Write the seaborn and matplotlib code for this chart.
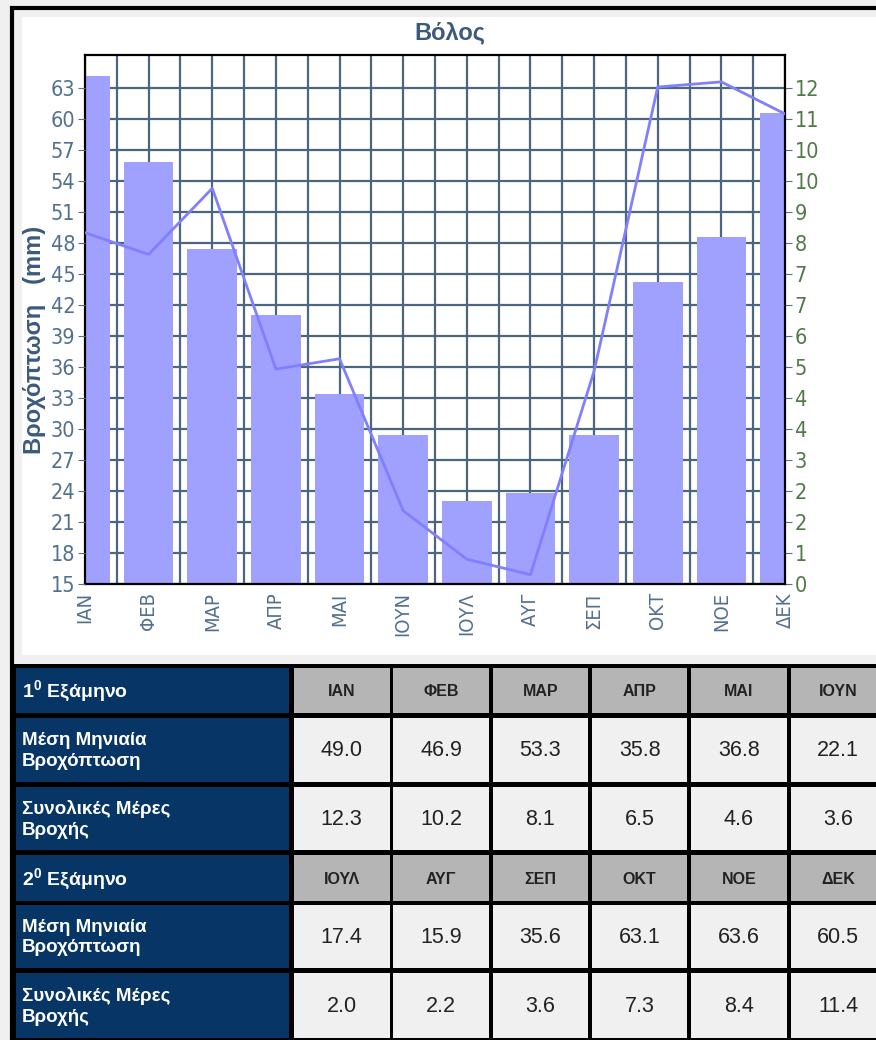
import numpy as np
import matplotlib
matplotlib.use('Agg')
import matplotlib.pyplot as plt
import seaborn as sns
from matplotlib.patches import Rectangle

# Monthly data for Volos
months = ['ΙΑΝ', 'ΦΕΒ', 'ΜΑΡ', 'ΑΠΡ', 'ΜΑΙ', 'ΙΟΥΝ', 'ΙΟΥΛ', 'ΑΥΓ', 'ΣΕΠ', 'ΟΚΤ', 'ΝΟΕ', 'ΔΕΚ']
rain = [49.0, 46.9, 53.3, 35.8, 36.8, 22.1, 17.4, 15.9, 35.6, 63.1, 63.6, 60.5]
days = [12.3, 10.2, 8.1, 6.5, 4.6, 3.6, 2.0, 2.2, 3.6, 7.3, 8.4, 11.4]

left_ticks = list(range(15, 64, 3))
right_labels = ['0', '1', '2', '2', '3', '4', '4', '5', '6', '7', '7', '8', '9', '10', '10', '11', '12']

sns.set_style('white')
plt.rcParams['font.family'] = ['Liberation Sans', 'DejaVu Sans']
plt.rcParams['mathtext.fontset'] = 'custom'
plt.rcParams['mathtext.rm'] = 'Liberation Sans'
plt.rcParams['mathtext.bf'] = 'Liberation Sans:bold'

W, H = 876, 1040
fig = plt.figure(figsize=(W / 100, H / 100), dpi=100, facecolor='#f0f0f0')

# background frame and table drawn in pixel coordinates
bg = fig.add_axes([0, 0, 1, 1])
bg.set_xlim(0, W)
bg.set_ylim(H, 0)
bg.axis('off')
bg.add_patch(Rectangle((12, 8), W, H, fc='#f0f0f0', ec='black', lw=3))
bg.add_patch(Rectangle((22, 17), W - 22, 638, fc='white', ec='none'))
bg.add_patch(Rectangle((13, 664), W - 13, H - 664, fc='black', ec='none'))

navy = '#063566'
grey = '#b5b5b5'
light = '#f0f0f0'
rows = [(668, 45, 'head', 0), (718, 64, 'rain', 0), (787, 63, 'days', 0),
        (855, 46, 'head', 6), (905, 63, 'rain', 6), (973, 65, 'days', 6)]
row_titles = {'rain': 'Μέση Μηνιαία\nΒροχόπτωση', 'days': 'Συνολικές Μέρες\nΒροχής'}
for y, h, kind, off in rows:
    bg.add_patch(Rectangle((16, y), 273, h, fc=navy, ec='none'))
    if kind == 'head':
        title = ('1' if off == 0 else '2') + r'$^{\mathbf{0}}$ Εξάμηνο'
        fs_t = 14
    else:
        title = row_titles[kind]
        fs_t = 13.5
    bg.text(22, y + h / 2 + 1, title, color='white', fontsize=fs_t, fontweight='bold',
            ha='left', va='center', linespacing=1.3)
    for i in range(6):
        x = 294 + 99.3 * i
        bg.add_patch(Rectangle((x, y), 95.5, h, fc=grey if kind == 'head' else light, ec='none'))
        m = off + i
        if kind == 'head':
            txt, fs, fw = months[m], 11.5, 'bold'
        elif kind == 'rain':
            txt, fs, fw = f'{rain[m]:.1f}', 15.5, 'normal'
        else:
            txt, fs, fw = f'{days[m]:.1f}', 15.5, 'normal'
        bg.text(x + 47.75, y + h / 2 + 1, txt, fontsize=fs, fontweight=fw,
                color='#222222', ha='center', va='center')

# chart: bars = rainy days (right axis), line = rainfall (left axis)
ax = fig.add_axes([85 / W, 1 - 584 / H, 700 / W, 529 / H])
sns.barplot(x=months, y=days, ax=ax, color='#a0a0ff', saturation=1, width=0.78, linewidth=0)
ax.set_ylim(0, (66.2 - 15) / 4)
ax.set_xlim(0, 11)
ax.set_xlabel('')
ax.set_ylabel('')

axl = ax.twinx()
axl.set_zorder(ax.get_zorder() + 1)
axl.patch.set_visible(False)
sns.lineplot(x=np.arange(12), y=rain, ax=axl, color='#8080ff', lw=2)
axl.set_ylim(15, 66.2)
axl.yaxis.tick_left()
axl.set_yticks(left_ticks)
axl.set_ylabel('')
axl.grid(False)
for s in axl.spines.values():
    s.set_visible(False)

ax.yaxis.tick_right()
ax.set_yticks((np.array(left_ticks) - 15) / 4, right_labels)
ax.set_xticks(range(12), months)
ax.set_xticks(np.arange(0, 11.01, 0.5), minor=True)
ax.set_axisbelow(True)
ax.grid(True, which='both', axis='x', color='#4d6680', lw=1.6)
ax.grid(True, which='major', axis='y', color='#4d6680', lw=1.6)
for s in ax.spines.values():
    s.set_visible(True)
    s.set_color('black')
    s.set_linewidth(1.6)

slate = '#52708f'
ax.tick_params(axis='x', which='major', length=4, color=slate, labelcolor=slate,
               labelsize=14.5, labelrotation=90, pad=2)
ax.tick_params(axis='x', which='minor', length=0)
ax.tick_params(axis='y', right=True, length=5, color=slate, labelcolor='#4e7a45',
               labelsize=15.5, pad=2)
axl.tick_params(axis='y', left=True, length=5, color=slate, labelcolor=slate,
                labelsize=15.5, pad=2)
for lab in ax.get_xticklabels() + ax.get_yticklabels() + axl.get_yticklabels():
    lab.set_family('DejaVu Sans')
    lab.set_stretch('condensed')

fig.text(450 / W, 1 - 33 / H, 'Βόλος', fontsize=17, fontweight='bold',
         color='#3c5a7e', ha='center', va='center')
fig.text(35 / W, 1 - 340 / H, 'Βροχόπτωση   (mm)', rotation=90, fontsize=17,
         fontweight='bold', color='#3c5a7e', ha='center', va='center')

fig.savefig('out.png', dpi=100, facecolor=fig.get_facecolor())
